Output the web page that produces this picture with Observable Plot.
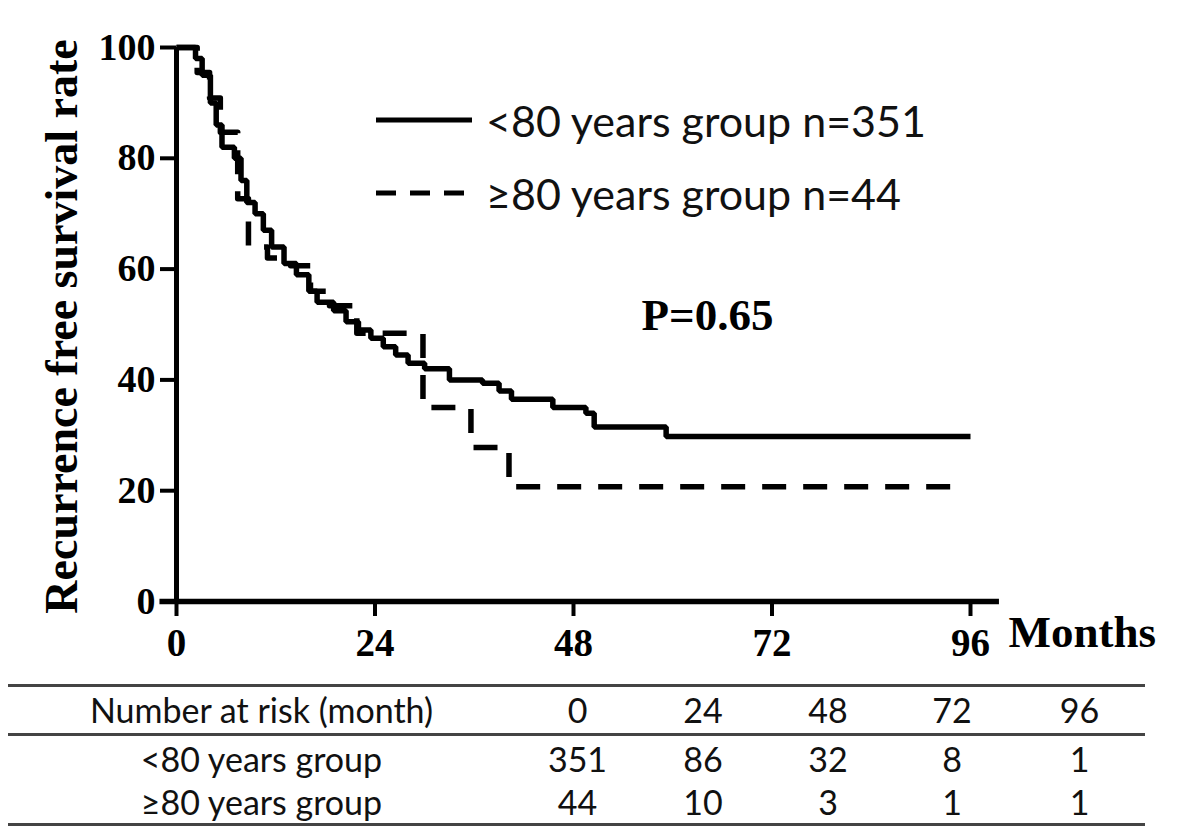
<!DOCTYPE html>
<html>
<head>
<meta charset="utf-8">
<script src="https://cdn.jsdelivr.net/npm/d3@7"></script>
<script src="https://cdn.jsdelivr.net/npm/@observablehq/plot@0.6"></script>
<style>
  html, body { margin: 0; padding: 0; background: #fff; }
  #wrap { position: relative; width: 1181px; height: 838px; overflow: hidden; }
  #chart { position: absolute; left: 0; top: 0; }
  #legend { position: absolute; left: 376px; top: 92px; font-family: Lato, "Open Sans", sans-serif; font-size: 43px; color: #111; }
  .lrow { display: flex; align-items: center; height: 56px; }
  .lrow + .lrow { margin-top: 17px; }
  .lrow svg { width: 96px; height: 10px; margin-right: 14px; }
  #risk { position: absolute; left: 8px; top: 684px; border-collapse: collapse; font-family: Lato, "Open Sans", sans-serif; font-size: 34px; color: #111; }
  #risk td { padding: 0; text-align: center; line-height: 1; }
  #risk tr.h td { height: 46px; border-top: 3px solid #444; border-bottom: 3px solid #444; }
  #risk tr.r1 td { height: 45px; }
  #risk tr.r2 td { height: 42px; border-bottom: 3px solid #444; }
</style>
</head>
<body>
<div id="wrap">
  <div id="chart"></div>
  <div id="legend"></div>
  <table id="risk"></table>
</div>
<script>
// ---- data ----
const groups = ["<80 years group", "≥80 years group"];
const groupN = [351, 44];
const xTicks = [0, 24, 48, 72, 96];
const yTicks = [0, 20, 40, 60, 80, 100];

// <80 years group (Kaplan-Meier step values, month / rate %)
const youngMonths = [0, 2.3, 3.1, 4.1, 4.8, 5.5, 7, 7.8, 8.5, 9.5, 10.5, 11.5, 13, 14.5, 16, 17, 19, 20.5, 22, 23.5, 25, 26.5, 28, 30, 33, 37, 39, 40.5, 45.5, 49.5, 50.5, 59.2, 96];
const youngRate   = [100, 98, 95, 90, 86, 82, 80, 76, 72, 70, 67, 64, 61, 59, 56, 54, 52.5, 50.5, 49, 47.5, 46, 44.5, 43, 42, 40, 39.4, 38, 36.5, 35, 34, 31.5, 29.8, 29.8];

// ≥80 years group
const oldMonths = [0, 2.5, 4, 5.3, 7.4, 8.7, 11, 13.8, 16.2, 18.5, 21.8, 29.8, 35.6, 40.2, 93.6];
const oldRate   = [100, 95.5, 90.9, 84.7, 72.7, 64, 62, 60.6, 56, 53.4, 48.4, 35, 27.8, 20.7, 20.7];

const riskHeader = "Number at risk (month)";
const riskMonths = [0, 24, 48, 72, 96];
const riskYoung = [351, 86, 32, 8, 1];
const riskOld = [44, 10, 3, 1, 1];

const pText = "P=0.65";
const yLabel = "Recurrence free survival rate";
const xLabel = "Months";

// ---- build tables for Plot ----
const young = youngMonths.map((t, i) => ({t, s: youngRate[i]}));
const old = oldMonths.map((t, i) => ({t, s: oldRate[i]}));

const serif = "'Liberation Serif', 'Times New Roman', serif";

const chart = Plot.plot({
  width: 1181,
  height: 665,
  marginLeft: 176,
  marginRight: 211,
  marginTop: 47,
  marginBottom: 64,
  style: {fontFamily: serif, fontWeight: "bold", color: "#000", background: "transparent"},
  x: {domain: [0, 96]},
  y: {domain: [0, 100]},
  marks: [
    Plot.lineY(young, {x: "t", y: "s", curve: "step-after", stroke: "#000", strokeWidth: 5.5, strokeLinejoin: "miter", strokeLinecap: "butt"}),
    Plot.lineY(old, {x: "t", y: "s", curve: "step-after", stroke: "#000", strokeWidth: 5.5, strokeDasharray: "24,17", strokeLinecap: "butt"}),
    Plot.ruleX([0], {y1: 0, y2: 100, stroke: "#000", strokeWidth: 5}),
    Plot.ruleY([0], {x1: -2, x2: 99.5, stroke: "#000", strokeWidth: 5.5}),
    Plot.axisX({ticks: xTicks, tickSize: 15, strokeWidth: 4, tickPadding: 12, fontSize: 39, fontWeight: "bold", fontFamily: serif, label: null, tickFormat: d => String(d)}),
    Plot.axisY({ticks: yTicks, tickSize: 16, strokeWidth: 4, tickPadding: 5, fontSize: 38, fontWeight: "bold", fontFamily: serif, label: null, tickFormat: d => String(d)}),
    Plot.text([yLabel], {frameAnchor: "left", dx: -114, dy: 2, rotate: -90, fontSize: 46, fontWeight: "bold", fontFamily: serif, fill: "#000", textAnchor: "middle", lineAnchor: "middle"}),
    Plot.text([xLabel], {frameAnchor: "bottom-right", dx: 38, dy: 31, fontSize: 45, fontWeight: "bold", fontFamily: serif, fill: "#000", textAnchor: "start", lineAnchor: "middle"}),
    Plot.text([pText], {frameAnchor: "top-left", dx: 531, dy: 268, fontSize: 45, fontWeight: "bold", fontFamily: serif, fill: "#000", textAnchor: "middle", lineAnchor: "middle"})
  ]
});
document.getElementById("chart").appendChild(chart);

// ---- legend ----
const legend = document.getElementById("legend");
groups.forEach((g, i) => {
  const row = document.createElement("div");
  row.className = "lrow";
  const dash = i === 0 ? "" : ' stroke-dasharray="20,14"';
  row.innerHTML = `<svg viewBox="0 0 96 10"><line x1="0" x2="96" y1="5" y2="5" stroke="#000" stroke-width="5"${dash}/></svg><span>${g.replace("<", "&lt;")} n=${groupN[i]}</span>`;
  legend.appendChild(row);
});

// ---- number at risk table ----
const widths = [507, 125, 126, 124, 124, 131];
const table = document.getElementById("risk");
function addRow(cls, cells) {
  const tr = document.createElement("tr");
  tr.className = cls;
  cells.forEach((c, j) => {
    const td = document.createElement("td");
    td.textContent = c;
    td.style.width = widths[j] + "px";
    tr.appendChild(td);
  });
  table.appendChild(tr);
}
addRow("h", [riskHeader, ...riskMonths.map(String)]);
addRow("r1", [groups[0], ...riskYoung.map(String)]);
addRow("r2", [groups[1], ...riskOld.map(String)]);
</script>
</body>
</html>
